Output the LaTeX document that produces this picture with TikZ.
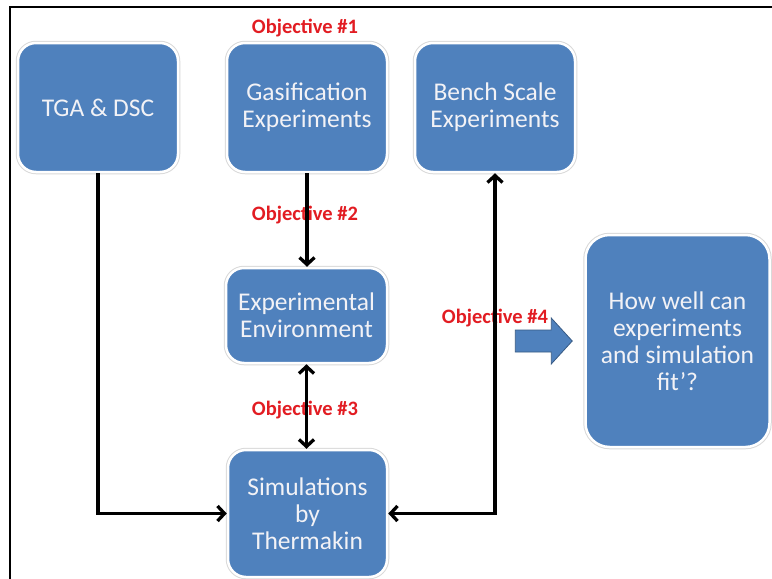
\documentclass[tikz,border=0pt]{standalone}
\usepackage{fontspec}
\setmainfont{Carlito}
\usetikzlibrary{arrows.meta}

\definecolor{boxblue}{RGB}{79,129,189}
\definecolor{boxtext}{RGB}{242,242,246}
\definecolor{objred}{RGB}{226,28,34}

\tikzset{
  box/.style={rectangle, rounded corners=18pt, fill=boxblue, draw=white, line width=2.5pt,
    preaction={draw=black!15, line width=4.5pt},
    text=boxtext, align=center, inner sep=0pt,
    font=\fontsize{25.5}{27}\selectfont},
  goal/.style={text=objred, font=\fontsize{20.5}{22}\selectfont\bfseries, inner sep=0pt},
  conn/.style={black, line width=3.3pt, >={Straight Barb[length=7pt,width=15pt]}},
}

\begin{document}
\begin{tikzpicture}[x=1pt,y=-1pt]
    \useasboundingbox (0,0) rectangle (772,579);
    \fill[white] (0,0) rectangle (772,579);
    \draw[black, line width=2.4pt] (10,580) -- (10,7) -- (773,7);

    % boxes
    \node[box, minimum width=160pt, minimum height=129pt] (tga) at (98,107.5) {TGA \& DSC};
    \node[box, minimum width=160pt, minimum height=129pt] (gasif) at (307,107.5) {Gasification\\Experiments};
    \node[box, minimum width=160pt, minimum height=129pt] (bench) at (495,107.5) {Bench Scale\\Experiments};
    \node[box, minimum width=161pt, minimum height=95pt] (expenv) at (306.5,315.5) {Experimental\\Environment};
    \node[box, minimum width=159pt, minimum height=127pt] (sim) at (307.5,513.5) {Simulations\\by\\Thermakin};
    \node[box, rounded corners=24pt, minimum width=184pt, minimum height=212pt] (fit) at (677.5,341) {How well can\\experiments\\and simulation\\fit'?};

    % objective labels
    \node[goal] (obj1) at (305,28) {Objective \#1};
    \node[goal] (obj2) at (305,215) {Objective \#2};
    \node[goal] (obj3) at (305,410) {Objective \#3};
    \node[goal] (obj4) at (495,318) {Objective \#4};

    % connectors
    \draw[conn, ->] (tga.south) |- (sim.west);
    \draw[conn, ->] (gasif.south) -- (gasif.south |- expenv.north);
    \draw[conn, <->] (expenv.south) -- (expenv.south |- sim.north);
    \draw[conn, <->] (sim.east) -| (bench.south);

    % block arrow towards the question
    \coordinate (tip) at ([xshift=-12pt]fit.west);
    \filldraw[fill=boxblue, draw=boxblue!70!black, line width=0.8pt]
      ([xshift=-57pt, yshift=-11pt]tip) -- ([xshift=-21pt, yshift=-11pt]tip)
      -- ([xshift=-21pt, yshift=-23pt]tip) -- (tip)
      -- ([xshift=-21pt, yshift=23pt]tip) -- ([xshift=-21pt, yshift=11pt]tip)
      -- ([xshift=-57pt, yshift=11pt]tip) -- cycle;
\end{tikzpicture}
\end{document}
